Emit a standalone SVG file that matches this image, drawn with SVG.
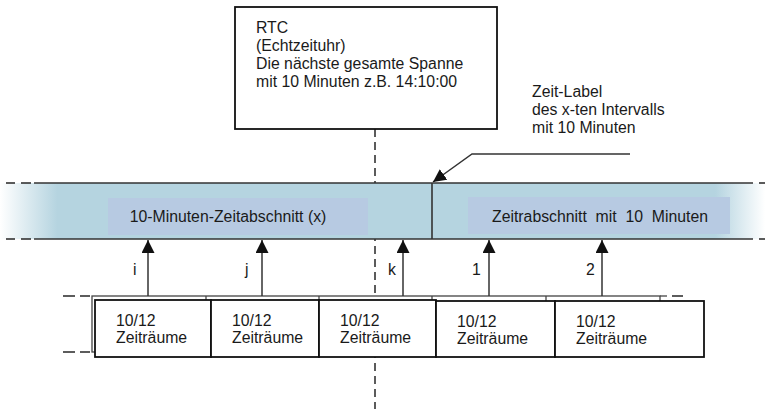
<svg xmlns="http://www.w3.org/2000/svg" width="765" height="409" viewBox="0 0 765 409">
<style>
text{font-family:"Liberation Sans",Arial,sans-serif;font-size:15.8px;fill:#1a1a1a}
.edge{stroke:#333;stroke-width:1.6;fill:none}
.vdash{stroke:#333;stroke-width:1.6;fill:none;stroke-dasharray:8,5}
.box{fill:#fff;stroke:#111;stroke-width:1.8}
.back{fill:#fff;stroke:#444;stroke-width:1.3}
.inner{fill:#b7cae2}
.conn{stroke:#333;stroke-width:1.5;fill:none}
</style>
<defs>
<linearGradient id="bandg" x1="0" y1="0" x2="765" y2="0" gradientUnits="userSpaceOnUse">
<stop offset="0" stop-color="#ffffff"/>
<stop offset="0.075" stop-color="#b5d4e0"/>
<stop offset="0.935" stop-color="#b5d4e0"/>
<stop offset="1" stop-color="#ffffff"/>
</linearGradient>
<marker id="ah" viewBox="0 0 10 10" refX="10" refY="5" markerWidth="13" markerHeight="13" markerUnits="userSpaceOnUse" orient="auto">
<path d="M0,0 L10,5 L0,10 z" fill="#111"/>
</marker>
</defs>

<line class="vdash" x1="375" y1="129" x2="375" y2="409"/>

<g id="band">
<rect x="0" y="183" width="765" height="56" fill="url(#bandg)"/>
<line class="edge" x1="34" y1="183" x2="753" y2="183"/>
<line class="edge" x1="34" y1="239" x2="753" y2="239"/>
<line class="edge" x1="6" y1="183" x2="15" y2="183"/>
<line class="edge" x1="21" y1="183" x2="31" y2="183"/>
<line class="edge" x1="6" y1="239" x2="15" y2="239"/>
<line class="edge" x1="21" y1="239" x2="31" y2="239"/>
<line class="edge" x1="759" y1="183" x2="765" y2="183"/>
<line class="edge" x1="759" y1="239" x2="765" y2="239"/>
<line class="edge" x1="432" y1="183" x2="432" y2="239"/>
</g>

<g id="segment-x">
<rect class="inner" x="108" y="198" width="260" height="37"/>
<text x="228" y="222" text-anchor="middle">10-Minuten-Zeitabschnitt (x)</text>
</g>

<g id="segment-next">
<rect class="inner" x="468" y="197" width="262" height="37"/>
<text x="600" y="222" text-anchor="middle" xml:space="preserve">Zeitrabschnitt  mit  10  Minuten</text>
</g>

<g id="rtc">
<rect class="box" x="235" y="7" width="262" height="122"/>
<text x="256" y="33">RTC</text>
<text x="256" y="51">(Echtzeituhr)</text>
<text x="256" y="69">Die nächste gesamte Spanne</text>
<text x="256" y="87">mit 10 Minuten z.B. 14:10:00</text>
</g>

<g id="zeit-label">
<text x="532" y="97">Zeit-Label</text>
<text x="532" y="115">des x-ten Intervalls</text>
<text x="532" y="133">mit 10 Minuten</text>
</g>

<g id="back-row">
<rect class="back" x="92" y="296" width="568" height="56"/>
<line class="back" x1="206" y1="296" x2="206" y2="302"/>
<line class="back" x1="319" y1="296" x2="319" y2="302"/>
<line class="back" x1="432" y1="296" x2="432" y2="302"/>
<line class="back" x1="546" y1="296" x2="546" y2="302"/>
<line class="back" x1="660" y1="296" x2="667" y2="296"/>
<line class="edge" x1="672" y1="296" x2="683" y2="296"/>
<line class="edge" x1="63" y1="296" x2="75" y2="296"/>
<line class="edge" x1="80" y1="296" x2="90" y2="296"/>
<line class="edge" x1="63" y1="352" x2="75" y2="352"/>
<line class="edge" x1="80" y1="352" x2="90" y2="352"/>
</g>

<g id="box1">
<rect class="box" x="95" y="300" width="116" height="57"/>
<text x="116" y="326">10/12</text>
<text x="116" y="343">Zeiträume</text>
</g>
<g id="box2">
<rect class="box" x="211" y="300" width="108" height="57"/>
<text x="232" y="326">10/12</text>
<text x="232" y="343">Zeiträume</text>
</g>
<g id="box3">
<rect class="box" x="319" y="300" width="117" height="57"/>
<text x="340" y="326">10/12</text>
<text x="340" y="343">Zeiträume</text>
</g>
<g id="box4">
<rect class="box" x="436" y="301" width="119" height="56"/>
<text x="457" y="327">10/12</text>
<text x="457" y="344">Zeiträume</text>
</g>
<g id="box5">
<rect class="box" x="555" y="301" width="149" height="56"/>
<text x="576" y="327">10/12</text>
<text x="576" y="344">Zeiträume</text>
</g>

<g id="connectors">
<line class="conn" x1="148" y1="296" x2="148" y2="240" marker-end="url(#ah)"/>
<line class="conn" x1="262" y1="296" x2="262" y2="240" marker-end="url(#ah)"/>
<line class="conn" x1="403" y1="296" x2="403" y2="240" marker-end="url(#ah)"/>
<line class="conn" x1="489" y1="296" x2="489" y2="240" marker-end="url(#ah)"/>
<line class="conn" x1="602" y1="296" x2="602" y2="240" marker-end="url(#ah)"/>
<polyline class="conn" points="630,154 472,154 433,182" marker-end="url(#ah)"/>
<text x="133" y="275">i</text>
<text x="245" y="275">j</text>
<text x="388" y="275">k</text>
<text x="472" y="275">1</text>
<text x="586" y="275">2</text>
</g>
</svg>
